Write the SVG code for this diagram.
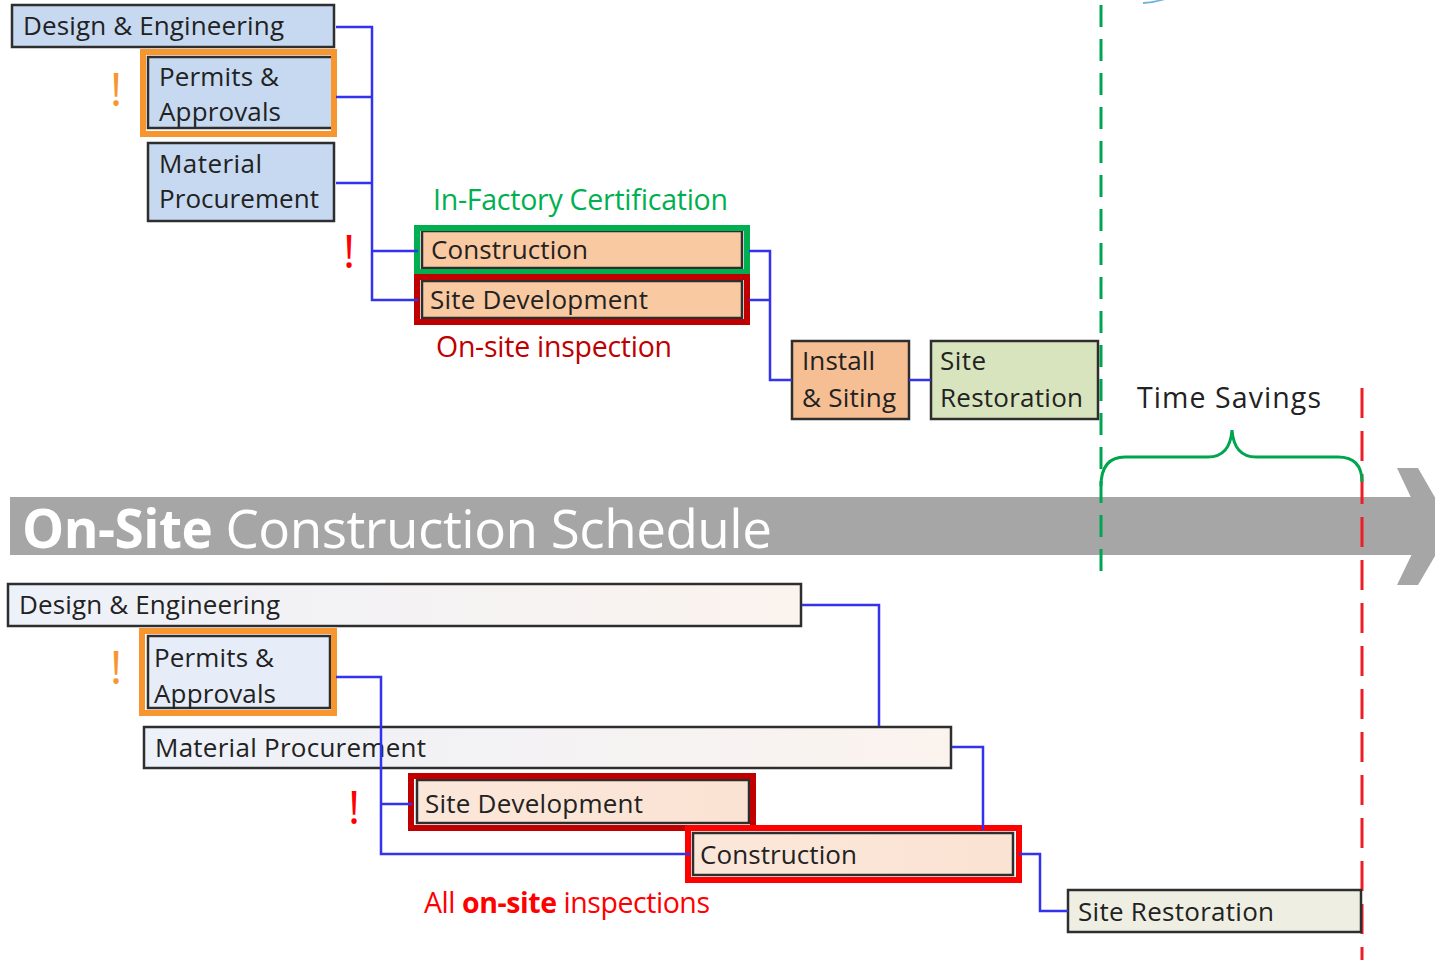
<svg xmlns="http://www.w3.org/2000/svg" width="1435" height="960" viewBox="0 0 1435 960">
<defs>
<linearGradient id="gLight" x1="0" y1="0" x2="1" y2="0">
<stop offset="0" stop-color="#edf1f9"/><stop offset="1" stop-color="#fbf3ee"/>
</linearGradient>
<linearGradient id="gPeach" x1="0" y1="0" x2="1" y2="0">
<stop offset="0" stop-color="#fbe7da"/><stop offset="1" stop-color="#fbe3d3"/>
</linearGradient>
<style>
.box{stroke:#2e2e2e;stroke-width:2.5}
.t{font-family:"Open Sans","Noto Sans","DejaVu Sans",sans-serif;font-size:26px;fill:#222222}
.lbl{font-family:"Open Sans","Noto Sans","DejaVu Sans",sans-serif;font-size:28.5px}
.con{fill:none;stroke:#3333ee;stroke-width:2.5}
.hl{fill:none;stroke-width:6}
.ex{font-family:"Open Sans","Noto Sans",sans-serif;font-size:46px}
</style>
</defs>
<rect width="1435" height="960" fill="#ffffff"/>
<path d="M1143,4 Q1155,3 1165,0 L1158,0 Q1150,2 1143,2 Z" fill="#6fb3dc"/>

<!-- Banner -->
<g id="banner">
<rect x="10" y="497" width="1425" height="58" fill="#a6a6a6"/>
<polygon points="1397,468 1418,468 1452,527 1418,585 1397,585 1425,527" fill="#a6a6a6"/>
<text x="22" y="548" font-family="'Open Sans','Noto Sans',sans-serif" font-size="53" fill="#ffffff" textLength="750"><tspan font-weight="bold">On-Site</tspan> Construction Schedule</text>
</g>

<!-- Time lines -->
<g id="timelines">
<line x1="1101" y1="5" x2="1101" y2="580" stroke="#00a550" stroke-width="3" stroke-dasharray="22,12"/>
<line x1="1362" y1="388" x2="1362" y2="960" stroke="#ee1c24" stroke-width="3" stroke-dasharray="30,13"/>
<path d="M1101,486 Q1101,457 1125,457 L1208,457 Q1230,457 1232,430 Q1234,457 1256,457 L1338,457 Q1362,457 1362,482" fill="none" stroke="#00a550" stroke-width="3"/>
<text x="1137" y="408" class="lbl" fill="#222222" font-size="30" textLength="184">Time Savings</text>
</g>

<!-- Top schedule nodes -->
<g id="top-design">
<rect class="box" x="12" y="5" width="322" height="42" fill="#c6d9f0"/>
<text class="t" x="23" y="35" textLength="261">Design &amp; Engineering</text>
</g>
<g id="top-permits">
<rect class="box" x="148" y="57" width="185" height="71" fill="#c6d9f0"/>
<rect class="hl" x="143" y="52" width="191" height="82" stroke="#f7962f"/>
<text class="t" x="159" y="86" textLength="120">Permits &amp;</text>
<text class="t" x="159" y="121" textLength="122">Approvals</text>
<text class="ex" x="110" y="106" fill="#f7962f">!</text>
</g>
<g id="top-material">
<rect class="box" x="148" y="143" width="186" height="78" fill="#c6d9f0"/>
<text class="t" x="159" y="173" textLength="103">Material</text>
<text class="t" x="159" y="208" textLength="160">Procurement</text>
</g>
<g id="top-construction">
<rect class="box" x="422" y="231" width="320" height="37" fill="#f9c9a1"/>
<rect class="hl" x="417" y="228" width="330" height="44" stroke="#00b050"/>
<text class="t" x="431" y="259" textLength="157">Construction</text>
<text class="lbl" x="433" y="210" fill="#00b050" textLength="295">In-Factory Certification</text>
<text class="ex" x="343" y="268" fill="#ff0000">!</text>
</g>
<g id="top-sitedev">
<rect class="box" x="422" y="281" width="320" height="37" fill="#f9c9a1"/>
<rect class="hl" x="417" y="277" width="330" height="45" stroke="#c00000"/>
<text class="t" x="430" y="309" textLength="218">Site Development</text>
<text class="lbl" x="436" y="357" fill="#c00000" textLength="236">On-site inspection</text>
</g>
<g id="top-install">
<rect class="box" x="792" y="341" width="117" height="78" fill="#f6bf93"/>
<text class="t" x="802" y="370" textLength="73">Install</text>
<text class="t" x="802" y="407" textLength="94">&amp; Siting</text>
</g>
<g id="top-restoration">
<rect class="box" x="931" y="341" width="167" height="78" fill="#d8e4bd"/>
<text class="t" x="940" y="370" textLength="46">Site</text>
<text class="t" x="940" y="407" textLength="143">Restoration</text>
</g>

<!-- Bottom schedule nodes -->
<g id="bot-design">
<rect class="box" x="8" y="584" width="793" height="42" fill="url(#gLight)"/>
<text class="t" x="19" y="614" textLength="261">Design &amp; Engineering</text>
</g>
<g id="bot-permits">
<rect class="box" x="148" y="636" width="182" height="72" fill="#e6edf8"/>
<rect class="hl" x="142" y="631" width="192" height="82" stroke="#f7962f"/>
<text class="t" x="154" y="667" textLength="120">Permits &amp;</text>
<text class="t" x="154" y="703" textLength="122">Approvals</text>
<text class="ex" x="110" y="684" fill="#f7962f">!</text>
</g>
<g id="bot-material">
<rect class="box" x="144" y="727" width="807" height="41" fill="url(#gLight)"/>
<text class="t" x="155" y="757" textLength="271">Material Procurement</text>
</g>
<g id="bot-sitedev">
<rect class="box" x="417" y="780" width="332" height="43" fill="url(#gPeach)"/>
<rect class="hl" x="411" y="776" width="342" height="52" stroke="#c00000"/>
<text class="t" x="425" y="813" textLength="218">Site Development</text>
<text class="ex" x="348" y="824" fill="#ff0000">!</text>
</g>
<g id="bot-construction">
<rect class="box" x="693" y="833" width="320" height="42" fill="url(#gPeach)"/>
<rect class="hl" x="688" y="828" width="331" height="52" stroke="#ff0000"/>
<text class="t" x="700" y="864" textLength="157">Construction</text>
<text class="lbl" x="424" y="913" fill="#ff0000" textLength="286">All <tspan font-weight="bold">on-site</tspan> inspections</text>
</g>
<g id="bot-restoration">
<rect class="box" x="1068" y="890" width="293" height="42" fill="#eeeee3"/>
<text class="t" x="1078" y="921" textLength="196">Site Restoration</text>
</g>

<!-- Connectors -->
<g id="connectors">
<path class="con" d="M336,27 H372 V300 H418"/>
<path class="con" d="M336,97 H372"/>
<path class="con" d="M336,183 H372"/>
<path class="con" d="M372,251 H418"/>
<path class="con" d="M749,251 H770 V380 H792"/>
<path class="con" d="M749,300 H770"/>
<path class="con" d="M909,380 H931"/>
<path class="con" d="M802,605 H879 V726"/>
<path class="con" d="M336,677 H381 V854 H690"/>
<path class="con" d="M381,804 H412"/>
<path class="con" d="M952,747 H983 V830"/>
<path class="con" d="M1019,854 H1040 V911 H1068"/>
</g>
</svg>
